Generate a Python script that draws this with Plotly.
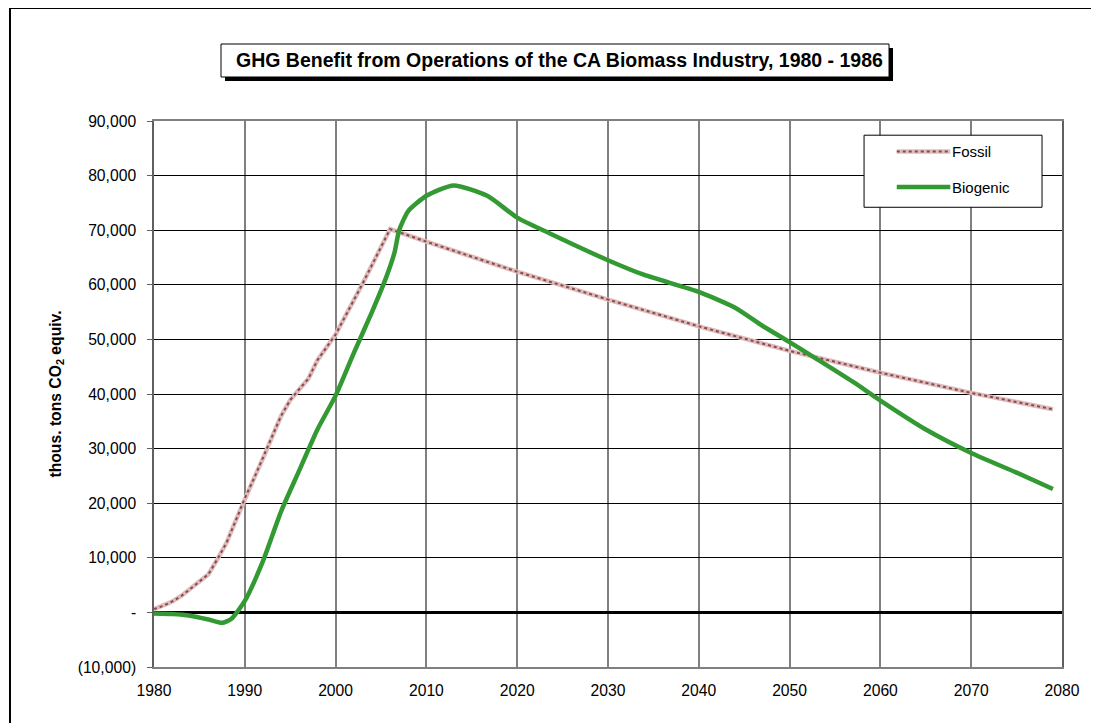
import plotly.graph_objects as go

# valeurs (milliers de tonnes CO2 eq.)
fossil_years = [1980, 1981, 1982, 1983, 1984, 1985, 1986, 1987, 1988, 1989, 1990,
                1991, 1992, 1993, 1994, 1995, 1996, 1997, 1998, 2000, 2003, 2006,
                2010, 2020, 2030, 2040, 2050, 2060, 2070, 2079]
fossil_vals = [600, 1200, 2000, 3000, 4300, 5600, 7000, 9800, 12800, 16800, 20900,
               24500, 28200, 32200, 36000, 38900, 40900, 42800, 46200, 50900, 60300, 70200,
               67900, 62400, 57300, 52400, 47900, 43900, 40200, 37200]

bio_years = [1980, 1982, 1984, 1986, 1987.5, 1988.5, 1990, 1992, 1994, 1996, 1998,
             2000, 2002, 2004, 2005.6, 2006.5, 2007, 2008, 2010, 2013, 2016.7, 2020,
             2023.6, 2030, 2034, 2040, 2044, 2047, 2050, 2053, 2057, 2060, 2065,
             2070, 2075, 2079]
bio_vals = [-200, -300, -600, -1300, -1900, -1200, 2100, 9400, 18500, 26000, 33500,
            39700, 47500, 55000, 61500, 66000, 70000, 73500, 76300, 78200, 76300, 72300,
            69400, 64500, 61800, 58700, 55800, 52500, 49500, 46400, 42200, 38800, 33500,
            29200, 25600, 22600]

y_ticks = [-10000, 0, 10000, 20000, 30000, 40000, 50000, 60000, 70000, 80000, 90000]
y_labels = ["(10,000)", "-", "10,000", "20,000", "30,000", "40,000", "50,000",
            "60,000", "70,000", "80,000", "90,000"]
x_ticks = [1980, 1990, 2000, 2010, 2020, 2030, 2040, 2050, 2060, 2070, 2080]

titre = "GHG Benefit from Operations of the CA Biomass Industry, 1980 - 1986"

brun = "#8c4848"
rose = "#dcbcbc"
vert = "#339933"

fig = go.Figure()

# Fossil : trait rose + pointillé brun par-dessus (effet damier)
fig.add_trace(go.Scatter(x=fossil_years, y=fossil_vals, mode="lines",
                         line=dict(color=rose, width=4.5), showlegend=False, hoverinfo="skip"))
fig.add_trace(go.Scatter(x=fossil_years, y=fossil_vals, mode="lines", name="Fossil",
                         line=dict(color=brun, width=2, dash="dot"), showlegend=False))
fig.add_trace(go.Scatter(x=bio_years, y=bio_vals, mode="lines", name="Biogenic",
                         line=dict(color=vert, width=4.5, shape="spline", smoothing=0.6),
                         showlegend=False))

police = dict(family="Liberation Sans, Arial, sans-serif", color="black")

# la page ajoute 8 px de marge : figure un peu plus petite que la fenêtre
fig.update_layout(
    width=1091, height=715,
    margin=dict(l=146, r=37, t=113, b=56),
    plot_bgcolor="white", paper_bgcolor="white",
    font=dict(police, size=15.7),
    showlegend=False,
)

fig.update_xaxes(range=[1980, 2080], tickvals=x_ticks, showgrid=True,
                 gridcolor="#808080", gridwidth=1.5, showline=True, linecolor="#808080",
                 linewidth=1.5, mirror=True, ticks="", zeroline=False,
                 ticklabelstandoff=8, tickfont=dict(police, size=15.7))
fig.update_yaxes(range=[-10000, 90000], tickvals=y_ticks, ticktext=y_labels,
                 showgrid=True, gridcolor="black", gridwidth=1, showline=True,
                 linecolor="#606060", linewidth=1.5, mirror=True, ticks="outside",
                 ticklen=5, tickcolor="#606060", zeroline=True, zerolinecolor="black",
                 zerolinewidth=3, ticklabelstandoff=8, tickfont=dict(police, size=15.7),
                 title=dict(text="<b>thous. tons CO<sub>2</sub> equiv.</b>",
                            font=dict(police, size=15.7), standoff=12))

# cadre extérieur du graphique
fig.add_shape(type="rect", xref="paper", yref="paper", x0=-0.1586, x1=1.06,
              y0=-0.12, y1=1.2070, line=dict(color="black", width=2), layer="below")

# boîte du titre avec ombre
fig.add_shape(type="rect", xref="paper", yref="paper", x0=0.0782, x1=0.8139,
              y0=1.0733, y1=1.1337, fillcolor="black", line=dict(width=0))
fig.add_shape(type="rect", xref="paper", yref="paper", x0=0.0738, x1=0.8095,
              y0=1.0806, y1=1.1410, fillcolor="white", line=dict(color="black", width=1))
fig.add_annotation(xref="paper", yref="paper", x=0.4466, y=1.1118, text="<b>" + titre + "</b>",
                   showarrow=False, xanchor="center", yanchor="middle",
                   font=dict(police, size=19.5))

# légende dessinée à la main
fig.add_shape(type="rect", xref="paper", yref="paper", x0=0.782, x1=0.978,
              y0=0.842, y1=0.974, fillcolor="white", line=dict(color="black", width=1))
fig.add_shape(type="line", xref="paper", yref="paper", x0=0.818, x1=0.877,
              y0=0.944, y1=0.944, line=dict(color=rose, width=4.5))
fig.add_shape(type="line", xref="paper", yref="paper", x0=0.818, x1=0.877,
              y0=0.944, y1=0.944, line=dict(color=brun, width=2, dash="dot"))
fig.add_shape(type="line", xref="paper", yref="paper", x0=0.818, x1=0.877,
              y0=0.879, y1=0.879, line=dict(color=vert, width=4.5))
fig.add_annotation(xref="paper", yref="paper", x=0.877, y=0.944, text="Fossil",
                   showarrow=False, xanchor="left", yanchor="middle", font=dict(police, size=15))
fig.add_annotation(xref="paper", yref="paper", x=0.877, y=0.879, text="Biogenic",
                   showarrow=False, xanchor="left", yanchor="middle", font=dict(police, size=15))

fig.write_html("out.html")
